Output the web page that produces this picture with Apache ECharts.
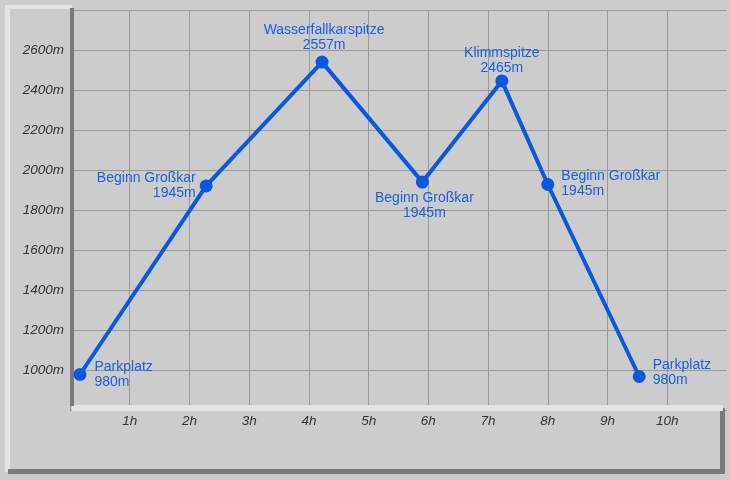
<!DOCTYPE html>
<html>
<head>
<meta charset="utf-8">
<script src="https://cdn.jsdelivr.net/npm/echarts@6/dist/echarts.min.js"></script>
<style>
html,body{margin:0;padding:0;background:#cccccc;}
#chart{width:730px;height:480px;}
</style>
</head>
<body>
<div id="chart"></div>
<script>
// Data
var hours = [0.167, 2.28, 4.22, 5.9, 7.23, 8.0, 9.53];
var elevations = [980, 1923, 2542, 1942, 2448, 1930, 970];
var pointNames = ['Parkplatz', 'Beginn Großkar', 'Wasserfallkarspitze', 'Beginn Großkar', 'Klimmspitze', 'Beginn Großkar', 'Parkplatz'];
var elevationTexts = ['980m', '1945m', '2557m', '1945m', '2465m', '1945m', '980m'];
var xTickLabels = ['1h', '2h', '3h', '4h', '5h', '6h', '7h', '8h', '9h', '10h'];
var yTickLabels = ['1000m', '1200m', '1400m', '1600m', '1800m', '2000m', '2200m', '2400m', '2600m'];

// label placement (style, not data)
var labelPlacement = [
  {position: 'right', distance: 8, align: 'left', offset: [0, 0]},
  {position: 'left', distance: 4, align: 'right', offset: [0, 0]},
  {position: 'top', distance: 3, align: 'center', offset: [2, 0]},
  {position: 'bottom', distance: 2, align: 'center', offset: [2, 0]},
  {position: 'top', distance: 0, align: 'center', offset: [0, 1]},
  {position: 'right', distance: 7, align: 'left', offset: [0, -1]},
  {position: 'right', distance: 7, align: 'left', offset: [0, -4]}
];

var seriesData = hours.map(function (h, i) {
  var p = labelPlacement[i];
  return {
    value: [h, elevations[i]],
    label: {
      position: p.position,
      distance: p.distance,
      align: p.align,
      offset: p.offset,
      formatter: pointNames[i] + '\n' + elevationTexts[i]
    }
  };
});

var chart = echarts.init(document.getElementById('chart'), null, {renderer: 'canvas'});
var font = '"Liberation Sans", Arial, sans-serif';

chart.setOption({
  backgroundColor: '#cccccc',
  animation: false,
  grid: {left: 70, right: 0, top: 10.5, bottom: 69.5, containLabel: false},
  xAxis: {
    type: 'value', min: 0, max: 11, interval: 1,
    axisLine: {show: false},
    axisTick: {show: false},
    splitLine: {show: true, showMaxLine: false, lineStyle: {color: '#999999', width: 1}},
    axisLabel: {
      margin: 4,
      color: '#333333', fontStyle: 'italic', fontSize: 13.5, fontFamily: font,
      showMinLabel: true, showMaxLabel: true,
      formatter: function (v) {
        var idx = Math.round(v) - 1;
        return (idx >= 0 && idx < xTickLabels.length) ? xTickLabels[idx] : '';
      }
    }
  },
  yAxis: {
    type: 'value', min: 800, max: 2800, interval: 200,
    axisLine: {show: false},
    axisTick: {show: false},
    splitLine: {show: true, lineStyle: {color: '#999999', width: 1}},
    axisLabel: {
      margin: 6,
      color: '#333333', fontStyle: 'italic', fontSize: 13.5, fontFamily: font,
      formatter: function (v) {
        var idx = Math.round((v - 1000) / 200);
        return (idx >= 0 && idx < yTickLabels.length) ? yTickLabels[idx] : '';
      }
    }
  },
  graphic: [
    // outer bevel frame
    {type: 'rect', shape: {x: 5, y: 5, width: 67, height: 4}, style: {fill: '#e4e4e4'}, z: 10},
    {type: 'rect', shape: {x: 5, y: 5, width: 5, height: 467}, style: {fill: '#e4e4e4'}, z: 10},
    {type: 'rect', shape: {x: 8, y: 469, width: 717, height: 5}, style: {fill: '#7a7a7a'}, z: 10},
    {type: 'rect', shape: {x: 720, y: 408, width: 5, height: 65}, style: {fill: '#7a7a7a'}, z: 10},
    // axes bevel
    {type: 'rect', shape: {x: 72, y: 405, width: 651, height: 6}, style: {fill: '#e4e4e4'}, z: 10},
    {type: 'rect', shape: {x: 70, y: 8, width: 4, height: 398}, style: {fill: '#7a7a7a'}, z: 11}
  ],
  series: [{
    type: 'line',
    data: seriesData,
    symbol: 'circle',
    symbolSize: 13,
    z: 20,
    lineStyle: {color: '#0a57e0', width: 4},
    itemStyle: {color: '#0a57e0'},
    label: {
      show: true,
      color: '#1a5ee0',
      fontSize: 14,
      lineHeight: 15,
      fontFamily: font
    }
  }]
});
</script>
</body>
</html>
